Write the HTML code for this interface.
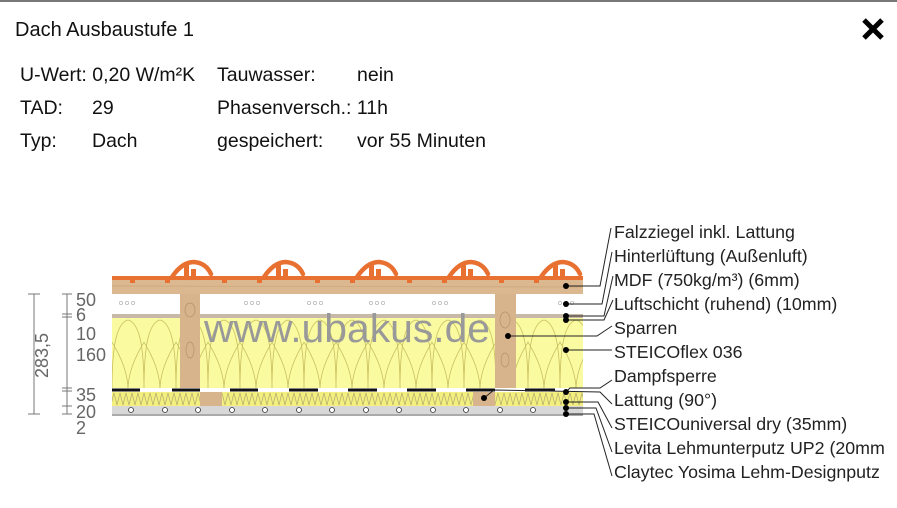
<!DOCTYPE html>
<html><head><meta charset="utf-8"><style>
body{margin:0;width:897px;height:508px;background:#fff;overflow:hidden;font-family:"Liberation Sans",sans-serif;color:#111;position:relative}
.t{position:absolute;font-size:19.5px;white-space:nowrap}
</style></head><body>
<div style="position:absolute;left:0;top:0;width:897px;height:2px;background:#777"></div>
<div class="t" style="left:15px;top:19px;font-size:20px">Dach Ausbaustufe 1</div>
<svg width="24" height="24" style="position:absolute;left:861px;top:17px"><path d="M3 3 L21 21 M21 3 L3 21" stroke="#000" stroke-width="5"/></svg>
<div class="t" style="left:20px;top:64px">U-Wert: 0,20 W/m²K</div>
<div class="t" style="left:217px;top:64px">Tauwasser:</div>
<div class="t" style="left:357px;top:64px">nein</div>
<div class="t" style="left:20px;top:97px">TAD:</div>
<div class="t" style="left:92px;top:97px">29</div>
<div class="t" style="left:217px;top:97px">Phasenversch.: 11h</div>
<div class="t" style="left:20px;top:130px">Typ:</div>
<div class="t" style="left:92px;top:130px">Dach</div>
<div class="t" style="left:217px;top:130px">gespeichert:</div>
<div class="t" style="left:357px;top:130px">vor 55 Minuten</div>
<svg width="897" height="508" style="position:absolute;left:0;top:0" font-family="Liberation Sans, sans-serif">
<defs>
<pattern id="zz" width="6" height="14" patternUnits="userSpaceOnUse"><path d="M0 1 L3 13 L6 1" fill="none" stroke="#b8b070" stroke-width="0.8"/></pattern>
<pattern id="wv" width="32" height="72" patternUnits="userSpaceOnUse" x="112" y="318"><path d="M0 72 C0 30 4 5 16 2 C28 5 32 30 32 72" fill="none" stroke="#c8c060" stroke-width="0.8"/><path d="M16 72 C16 40 -10 10 -16 2 M16 72 C16 40 42 10 48 2" fill="none" stroke="#c8c060" stroke-width="0.8"/></pattern>
</defs>
<rect x="112" y="279" width="471" height="15" fill="#dcb890"/>
<line x1="112" y1="286" x2="583" y2="287" stroke="#c9a57a" stroke-width="0.7"/>
<rect x="112" y="294" width="471" height="20" fill="#fff"/>
<g fill="none" stroke="#bbb" stroke-width="0.8">
<circle cx="121" cy="303" r="1.6"/><circle cx="127" cy="303" r="1.6"/><circle cx="133" cy="303" r="1.6"/>
<circle cx="246" cy="303" r="1.6"/><circle cx="252" cy="303" r="1.6"/><circle cx="258" cy="303" r="1.6"/>
<circle cx="309" cy="303" r="1.6"/><circle cx="315" cy="303" r="1.6"/><circle cx="321" cy="303" r="1.6"/>
<circle cx="371" cy="303" r="1.6"/><circle cx="377" cy="303" r="1.6"/><circle cx="383" cy="303" r="1.6"/>
<circle cx="434" cy="303" r="1.6"/><circle cx="440" cy="303" r="1.6"/><circle cx="446" cy="303" r="1.6"/>
<circle cx="560" cy="303" r="1.6"/><circle cx="566" cy="303" r="1.6"/><circle cx="572" cy="303" r="1.6"/>
</g>
<rect x="112" y="314" width="471" height="4" fill="#c8b8a8"/>
<rect x="112" y="318" width="471" height="70" fill="#fafaa0"/>
<rect x="112" y="318" width="471" height="70" fill="url(#wv)"/>
<rect x="180" y="294" width="20" height="95" fill="#d8b48c"/>
<rect x="495" y="294" width="21" height="95" fill="#d8b48c"/>
<g fill="none" stroke="#b89068" stroke-width="0.7"><ellipse cx="190" cy="310" rx="5" ry="7"/><ellipse cx="190" cy="350" rx="4" ry="8"/><ellipse cx="505" cy="320" rx="5" ry="8"/><ellipse cx="505" cy="360" rx="4" ry="7"/></g>
<rect x="112" y="388" width="471" height="4" fill="#fff"/>
<g stroke="#111" stroke-width="3">
<line x1="112" y1="390" x2="140" y2="390"/><line x1="172" y1="390" x2="200" y2="390"/><line x1="230" y1="390" x2="258" y2="390"/><line x1="289" y1="390" x2="318" y2="390"/><line x1="348" y1="390" x2="377" y2="390"/><line x1="407" y1="390" x2="436" y2="390"/><line x1="466" y1="390" x2="495" y2="390"/><line x1="525" y1="390" x2="555" y2="390"/>
</g>
<rect x="112" y="392" width="471" height="14" fill="#f4f080"/>
<rect x="112" y="392" width="471" height="14" fill="url(#zz)"/>
<rect x="200" y="392" width="22" height="14" fill="#d8b48c"/>
<rect x="473" y="392" width="22" height="14" fill="#d8b48c"/>
<rect x="112" y="406" width="471" height="8" fill="#d8d8d8"/>
<rect x="112" y="414" width="471" height="2" fill="#aaa"/>
<g fill="#fff" stroke="#333" stroke-width="0.8">
<circle cx="131" cy="410" r="2.5"/><circle cx="165" cy="410" r="2.5"/><circle cx="198" cy="410" r="2.5"/><circle cx="232" cy="410" r="2.5"/><circle cx="265" cy="410" r="2.5"/><circle cx="299" cy="410" r="2.5"/><circle cx="332" cy="410" r="2.5"/><circle cx="366" cy="410" r="2.5"/><circle cx="399" cy="410" r="2.5"/><circle cx="433" cy="410" r="2.5"/><circle cx="466" cy="410" r="2.5"/><circle cx="500" cy="410" r="2.5"/><circle cx="533" cy="410" r="2.5"/>
</g>
<rect x="112" y="276" width="471" height="4" fill="#e87030"/>
<g fill="none" stroke="#e87030" stroke-width="4.5" stroke-linecap="round">
<path d="M172 277 Q182 262 194 262 Q206 263 211 274"/>
<path d="M264 277 Q274 262 286 262 Q298 263 303 274"/>
<path d="M357 277 Q367 262 379 262 Q391 263 396 274"/>
<path d="M449 277 Q459 262 471 262 Q483 263 488 274"/>
<path d="M541 277 Q551 262 563 262 Q575 263 580 274"/>
</g>
<g fill="#e87030">
<rect x="184" y="265" width="5" height="14"/><rect x="191" y="269" width="5" height="10"/>
<rect x="276" y="265" width="5" height="14"/><rect x="283" y="269" width="5" height="10"/>
<rect x="369" y="265" width="5" height="14"/><rect x="376" y="269" width="5" height="10"/>
<rect x="461" y="265" width="5" height="14"/><rect x="468" y="269" width="5" height="10"/>
<rect x="553" y="265" width="5" height="14"/><rect x="560" y="269" width="5" height="10"/>
<rect x="130" y="279" width="5" height="4"/><rect x="165" y="279" width="5" height="4"/><rect x="222" y="279" width="5" height="4"/><rect x="257" y="279" width="5" height="4"/><rect x="315" y="279" width="5" height="4"/><rect x="350" y="279" width="5" height="4"/><rect x="407" y="279" width="5" height="4"/><rect x="442" y="279" width="5" height="4"/><rect x="499" y="279" width="5" height="4"/><rect x="534" y="279" width="5" height="4"/>
</g>
<text x="204" y="342" font-size="40" fill="#999" textLength="286" lengthAdjust="spacingAndGlyphs">www.ubakus.de</text>
<g stroke="#777" stroke-width="1" fill="none">
<line x1="34" y1="294" x2="34" y2="414"/><line x1="28" y1="294" x2="40" y2="294"/><line x1="28" y1="414" x2="40" y2="414"/>
<line x1="67" y1="294" x2="67" y2="414"/>
<line x1="62" y1="294" x2="72" y2="294"/><line x1="62" y1="314" x2="72" y2="314"/><line x1="62" y1="317" x2="72" y2="317"/><line x1="62" y1="388" x2="72" y2="388"/><line x1="62" y1="391" x2="72" y2="391"/><line x1="62" y1="406" x2="72" y2="406"/><line x1="62" y1="414" x2="72" y2="414"/>
</g>
<text transform="translate(48,378) rotate(-90)" font-size="18" fill="#666">283,5</text>
<g font-size="18" fill="#666">
<text x="76" y="306">50</text><text x="76" y="321">6</text><text x="76" y="340">10</text><text x="76" y="361">160</text><text x="76" y="401">35</text><text x="76" y="418">20</text><text x="76" y="434">2</text>
</g>
<g fill="none" stroke="#222" stroke-width="1">
<polyline points="566,286 600,286 611,228"/>
<polyline points="566,304 602,304 612,252"/>
<polyline points="566,316 604,316 613,276"/>
<polyline points="566,320 604,320 613,300"/>
<polyline points="508,336 597,336 612,326"/>
<polyline points="566,350 612,350"/>
<polyline points="566,392 570,388 600,388 612,380"/>
<polyline points="484,398 494,390 600,392 612,404"/>
<polyline points="566,402 598,402 612,428"/>
<polyline points="566,408 596,408 612,452"/>
<polyline points="566,414 594,414 612,476"/>
</g>
<g fill="#000">
<circle cx="566" cy="286" r="3"/><circle cx="566" cy="304" r="3"/><circle cx="566" cy="316" r="3"/><circle cx="566" cy="320" r="3"/><circle cx="508" cy="336" r="3"/><circle cx="566" cy="350" r="3"/><circle cx="566" cy="392" r="3"/><circle cx="484" cy="398" r="3"/><circle cx="566" cy="402" r="3"/><circle cx="566" cy="408" r="3"/><circle cx="566" cy="414" r="3"/>
</g>
<g font-size="17.8" fill="#222">
<text x="614" y="238">Falzziegel inkl. Lattung</text>
<text x="614" y="262">Hinterlüftung (Außenluft)</text>
<text x="614" y="286">MDF (750kg/m³) (6mm)</text>
<text x="614" y="310">Luftschicht (ruhend) (10mm)</text>
<text x="614" y="334">Sparren</text>
<text x="614" y="358">STEICOflex 036</text>
<text x="614" y="382">Dampfsperre</text>
<text x="614" y="406">Lattung (90°)</text>
<text x="614" y="430">STEICOuniversal dry (35mm)</text>
<text x="614" y="454">Levita Lehmunterputz UP2 (20mm</text>
<text x="614" y="478">Claytec Yosima Lehm-Designputz</text>
</g>
</svg>
</body></html>
